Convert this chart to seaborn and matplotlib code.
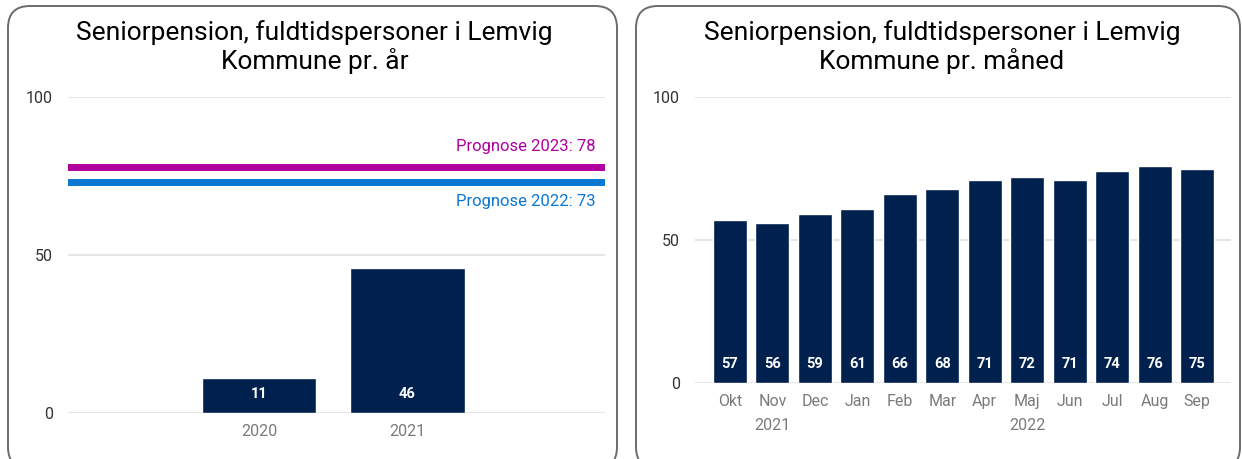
import matplotlib
matplotlib.use("Agg")
import matplotlib.pyplot as plt
import matplotlib.transforms as mtransforms
from matplotlib.patches import FancyBboxPatch
import seaborn as sns
import pandas as pd

# ---- data ----
years = ["2020", "2021"]
year_values = [11, 46]
forecast_labels = ["Prognose 2023: 78", "Prognose 2022: 73"]
forecast_values = [78, 73]

months = ["Okt", "Nov", "Dec", "Jan", "Feb", "Mar", "Apr", "Maj", "Jun", "Jul", "Aug", "Sep"]
month_years = ["2021", "2021", "2021", "2022", "2022", "2022", "2022", "2022", "2022", "2022", "2022", "2022"]
month_values = [57, 56, 59, 61, 66, 68, 71, 72, 71, 74, 76, 75]

y_ticks = [0, 50, 100]
title_left = "Seniorpension, fuldtidspersoner i Lemvig\nKommune pr. år"
title_right = "Seniorpension, fuldtidspersoner i Lemvig\nKommune pr. måned"

sns.set_theme(style="white")
plt.rcParams["font.family"] = ["Roboto", "DejaVu Sans"]

NAVY = "#00204E"
MAGENTA = "#B0009E"
BLUE = "#0A78D2"
GRID = "#E6E6E6"

W, H = 1242, 459
fig = plt.figure(figsize=(W / 100, H / 100), dpi=100)

# rounded panel frames (pixel coordinates, origin bottom-left)
for x0, x1 in [(8, 617), (636, 1240)]:
    box = FancyBboxPatch((x0, -10), x1 - x0, (H - 6) + 10,
                         boxstyle="round,pad=0,rounding_size=22",
                         transform=mtransforms.IdentityTransform(),
                         facecolor="none", edgecolor="#6B6B6B",
                         linewidth=1.4, zorder=-1)
    fig.add_artist(box)


def style_axis(ax):
    for s in ax.spines.values():
        s.set_visible(False)
    ax.set_ylim(0, 100)
    ax.set_yticks(y_ticks)
    ax.yaxis.grid(True, color=GRID, linewidth=1.5)
    ax.set_axisbelow(True)
    ax.tick_params(axis="y", length=0, labelsize=11.5, labelcolor="#333333", pad=11)
    ax.tick_params(axis="x", length=0, labelsize=11.5, labelcolor="#7A7A7A", pad=8)
    ax.set_xlabel("")
    ax.set_ylabel("")
    ax.patch.set_alpha(0)


def bar_labels(ax, values, size):
    for p, v in zip(ax.patches, values):
        ax.annotate(f"{v}", xy=(p.get_x() + p.get_width() / 2, 0),
                    xytext=(0, 13.7), textcoords="offset points",
                    ha="center", va="center", color="white",
                    fontsize=size, fontweight="bold")


# ---- left: per year ----
ax1 = fig.add_axes([68 / W, (H - 413) / H, (605 - 68) / W, (413 - 97) / H])
df_y = pd.DataFrame({"year": years, "value": year_values})
sns.barplot(data=df_y, x="year", y="value", order=years, color=NAVY,
            width=0.77, saturation=1, ax=ax1)
style_axis(ax1)
ax1.set_xlim(-1.286, 2.33)
bar_labels(ax1, year_values, 10.5)

for lab, val, col, dy in zip(forecast_labels, forecast_values,
                             [MAGENTA, BLUE], [14.5, -14]):
    ax1.axhline(val, color=col, linewidth=5, zorder=3)
    ax1.annotate(lab, xy=(1.0, val), xycoords=ax1.get_yaxis_transform(),
                 xytext=(-6.5, dy), textcoords="offset points",
                 ha="right", va="center", color=col, fontsize=12)

fig.text(314.5 / W, 1 - 47 / H, title_left, ha="center", va="center",
         fontsize=19, color="black", linespacing=1.1)

# ---- right: per month ----
ax2 = fig.add_axes([695 / W, (H - 383) / H, (1231 - 695) / W, (383 - 97) / H])
df_m = pd.DataFrame({"month": months, "value": month_values})
sns.barplot(data=df_m, x="month", y="value", order=months, color=NAVY,
            width=0.8, saturation=1, ax=ax2)
style_axis(ax2)
ax2.set_xlim(-0.824, 11.80)
bar_labels(ax2, month_values, 10.5)

trans = mtransforms.blended_transform_factory(ax2.transData, ax2.transAxes)
for yr in dict.fromkeys(month_years):
    idx = [i for i, y in enumerate(month_years) if y == yr]
    cx = (idx[0] + idx[-1]) / 2
    ax2.text(cx, -42 / 286, yr, transform=trans, ha="center", va="center",
             fontsize=11.5, color="#7A7A7A")

fig.text(942 / W, 1 - 47 / H, title_right, ha="center", va="center",
         fontsize=19, color="black", linespacing=1.1)

fig.savefig("out.png", dpi=100, facecolor="white")
